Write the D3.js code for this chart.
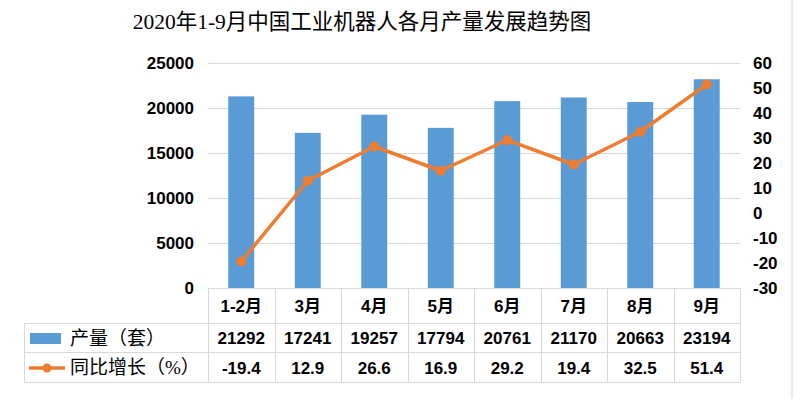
<html>
<head>
<meta charset="utf-8">
<style>
  body { margin: 0; background: #fff; }
  .num { font: bold 17px "Liberation Sans", "Noto Sans CJK SC", sans-serif; fill: #000; }
  .grid line { stroke: #d9d9d9; stroke-width: 1px; }
  .tbl line { stroke: #d9d9d9; stroke-width: 1px; }
</style>
</head>
<body>
<script src="https://cdn.jsdelivr.net/npm/d3@7/dist/d3.min.js"></script>
<script>
var months = ["1-2月", "3月", "4月", "5月", "6月", "7月", "8月", "9月"];
var output = [21292, 17241, 19257, 17794, 20761, 21170, 20663, 23194];
var growth = [-19.4, 12.9, 26.6, 16.9, 29.2, 19.4, 32.5, 51.4];
var leftTicks = [0, 5000, 10000, 15000, 20000, 25000];
var rightTicks = [-30, -20, -10, 0, 10, 20, 30, 40, 50, 60];

var width = 796, height = 399;
var blue = "#5b9bd5", orange = "#ed7d31";

var svg = d3.select("body").append("svg")
    .attr("width", width)
    .attr("height", height);

// 外框
svg.append("line").attr("x1", 792).attr("x2", 792).attr("y1", 0).attr("y2", height)
    .attr("stroke", "#d9d9d9");

// 标题
svg.append("text")
    .attr("x", 362).attr("y", 29)
    .attr("text-anchor", "middle")
    .style("font", "21.5px 'Liberation Serif', 'Noto Sans CJK SC', serif")
    .text("2020年1-9月中国工业机器人各月产量发展趋势图");

var x = d3.scaleBand().domain(months).range([208, 740]).padding(0);
var yL = d3.scaleLinear().domain([0, 25000]).range([288, 63]);
var yR = d3.scaleLinear().domain([-30, 60]).range([288, 63]);

// 网格线
svg.append("g").attr("class", "grid")
    .selectAll("line").data(leftTicks.slice(1)).join("line")
    .attr("x1", 208).attr("x2", 740)
    .attr("y1", d => Math.round(yL(d)) + 0.5)
    .attr("y2", d => Math.round(yL(d)) + 0.5);

// 左轴
svg.append("g").selectAll("text").data(leftTicks).join("text")
    .attr("class", "num")
    .attr("x", 194).attr("y", d => yL(d)).attr("dy", "0.36em")
    .attr("text-anchor", "end")
    .text(d => d);

// 右轴
svg.append("g").selectAll("text").data(rightTicks).join("text")
    .attr("class", "num")
    .attr("x", 753).attr("y", d => yR(d)).attr("dy", "0.36em")
    .text(d => d);

// 柱子
var bw = x.bandwidth() * 0.39;
svg.append("g").selectAll("rect").data(output).join("rect")
    .attr("x", (d, i) => x(months[i]) + x.bandwidth() / 2 - bw / 2)
    .attr("width", bw)
    .attr("y", d => yL(d))
    .attr("height", d => yL(0) - yL(d))
    .attr("fill", blue);

// 折线
var line = d3.line()
    .x((d, i) => x(months[i]) + x.bandwidth() / 2)
    .y(d => yR(d));
svg.append("path").datum(growth)
    .attr("d", line)
    .attr("fill", "none")
    .attr("stroke", orange)
    .attr("stroke-width", 3.5)
    .attr("stroke-linejoin", "round");
svg.append("g").selectAll("circle").data(growth).join("circle")
    .attr("cx", (d, i) => x(months[i]) + x.bandwidth() / 2)
    .attr("cy", d => yR(d))
    .attr("r", 5)
    .attr("fill", orange);

// 数据表
var rows = [288.5, 323.5, 352.5, 382.5];
var tbl = svg.append("g").attr("class", "tbl");
tbl.append("line").attr("x1", 208).attr("x2", 740).attr("y1", rows[0]).attr("y2", rows[0]);
rows.slice(1).forEach(function(r) {
    tbl.append("line").attr("x1", 24).attr("x2", 740).attr("y1", r).attr("y2", r);
});
tbl.append("line").attr("x1", 24.5).attr("x2", 24.5).attr("y1", rows[1]).attr("y2", rows[3]);
months.forEach(function(m) {
    var xx = Math.round(x(m)) + 0.5;
    tbl.append("line").attr("x1", xx).attr("x2", xx).attr("y1", rows[0]).attr("y2", rows[3]);
});
tbl.append("line").attr("x1", 740.5).attr("x2", 740.5).attr("y1", rows[0]).attr("y2", rows[3]);

svg.append("g").selectAll("text").data(months).join("text")
    .attr("class", "num")
    .attr("x", d => x(d) + x.bandwidth() / 2)
    .attr("y", (rows[0] + rows[1]) / 2).attr("dy", "0.36em")
    .attr("text-anchor", "middle")
    .text(d => d);
svg.append("g").selectAll("text").data(output).join("text")
    .attr("class", "num")
    .attr("x", (d, i) => x(months[i]) + x.bandwidth() / 2)
    .attr("y", (rows[1] + rows[2]) / 2).attr("dy", "0.36em")
    .attr("text-anchor", "middle")
    .text(d => d);
svg.append("g").selectAll("text").data(growth).join("text")
    .attr("class", "num")
    .attr("x", (d, i) => x(months[i]) + x.bandwidth() / 2)
    .attr("y", (rows[2] + rows[3]) / 2).attr("dy", "0.36em")
    .attr("text-anchor", "middle")
    .text(d => d.toFixed(1));

// 图例
var legFont = "19px 'Liberation Serif', 'Noto Sans CJK SC', serif";
svg.append("rect").attr("x", 30).attr("y", 333).attr("width", 31).attr("height", 11).attr("fill", blue);
svg.append("text").attr("x", 70).attr("y", (rows[1] + rows[2]) / 2).attr("dy", "0.36em")
    .style("font", legFont).text("产量（套）");
svg.append("line").attr("x1", 29).attr("x2", 65).attr("y1", 368).attr("y2", 368)
    .attr("stroke", orange).attr("stroke-width", 3.5);
svg.append("circle").attr("cx", 47).attr("cy", 368).attr("r", 4.5).attr("fill", orange);
svg.append("text").attr("x", 70).attr("y", (rows[2] + rows[3]) / 2).attr("dy", "0.36em")
    .style("font", legFont).text("同比增长（%）");
</script>
</body>
</html>
